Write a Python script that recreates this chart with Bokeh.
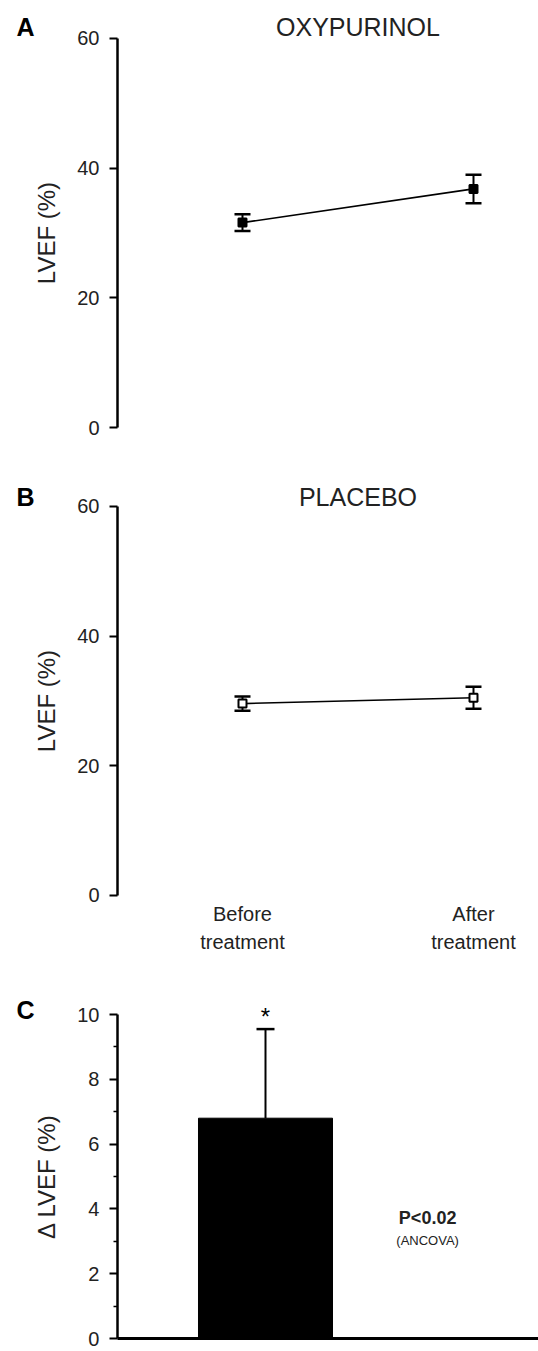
from bokeh.plotting import figure
from bokeh.models import Range1d, FixedTicker, Whisker, TeeHead, ColumnDataSource
from bokeh.layouts import column
from bokeh.embed import file_html
from bokeh.resources import INLINE
from bokeh.core.properties import value

# ---- data ----
timepoints = ["Before\ntreatment", "After\ntreatment"]
tp_x = [0, 1]
oxy_mean = [31.6, 36.8]
oxy_sem = [1.3, 2.2]
pla_mean = [29.6, 30.5]
pla_sem = [1.1, 1.7]
delta_x = [0]
delta_mean = [6.8]
delta_sem = [2.75]
lvef_ticks = [0, 20, 40, 60]
delta_ticks = [0, 2, 4, 6, 8, 10]
delta_minor = [1, 3, 5, 7, 9]

FONT = "Liberation Sans"
TXT = "#222222"


def style_yaxis(p, ticks, bounds, label, loc, minor=None):
    ax = p.yaxis[0]
    ax.fixed_location = loc
    ax.ticker = FixedTicker(ticks=ticks, minor_ticks=minor or [])
    ax.bounds = bounds
    ax.axis_label = label
    ax.axis_label_text_font = FONT
    ax.axis_label_text_font_size = "24px"
    ax.axis_label_text_font_style = "normal"
    ax.axis_label_text_color = TXT
    ax.axis_label_standoff = 14
    ax.major_label_text_font = FONT
    ax.major_label_text_font_size = "20px"
    ax.major_label_text_color = TXT
    ax.major_label_standoff = 10
    ax.axis_line_width = 2.5
    ax.axis_line_color = "black"
    ax.major_tick_line_width = 2
    ax.major_tick_out = 8
    ax.major_tick_in = 0
    ax.minor_tick_out = 4 if minor else 0
    ax.minor_tick_in = 0
    ax.minor_tick_line_width = 1.5


def base_fig(h, xr, yr, xloc=None):
    p = figure(width=538, height=h, x_range=xr, y_range=yr,
               output_backend="svg", toolbar_location=None,
               x_axis_location=xloc, min_border_left=0, min_border_right=0,
               min_border_top=0, min_border_bottom=0)
    p.outline_line_color = None
    p.xgrid.visible = False
    p.ygrid.visible = False
    p.background_fill_color = "white"
    return p


def text(p, x, y, t, size, bold=False, color=TXT, **kw):
    p.text(x=x, y=y, text=t, text_align="center", text_baseline="middle",
           text_font=value(FONT), text_font_size=size,
           text_font_style="bold" if bold else "normal",
           text_color=color, **kw)


def line_panel(h, yr, means, sems, title, letter, filled, ty):
    p = base_fig(h, Range1d(-1.0476, 1.2814), yr)
    style_yaxis(p, lvef_ticks, (0, 60), "LVEF (%)", -0.5411)
    src = ColumnDataSource(dict(
        x=tp_x, y=means,
        upper=[m + s for m, s in zip(means, sems)],
        lower=[m - s for m, s in zip(means, sems)]))
    p.line("x", "y", source=src, line_color="black", line_width=1.6)
    p.add_layout(Whisker(source=src, base="x", upper="upper", lower="lower",
                         line_color="black", line_width=2,
                         upper_head=TeeHead(size=16, line_width=2.5, line_color="black"),
                         lower_head=TeeHead(size=16, line_width=2.5, line_color="black")))
    p.scatter("x", "y", source=src, marker="square", size=8,
              fill_color="black" if filled else "white",
              line_color="black", line_width=2)
    text(p, [0.5], [ty], [title], "25px")
    text(p, [-0.939], [ty], [letter], "25px", bold=True, color="black")
    return p


pA = line_panel(470, Range1d(-6.632, 65.86), oxy_mean, oxy_sem,
                "OXYPURINOL", "A", True, 61.7)
pB = line_panel(490, Range1d(-10.026, 65.55), pla_mean, pla_sem,
                "PLACEBO", "B", False, 61.4)
text(pB, tp_x, [-5.0, -5.0], timepoints, "20px", text_line_height=1.25)

# ---- panel C ----
pC = base_fig(391, Range1d(-1.9776, 2.0373), Range1d(-0.401, 11.667), xloc="below")
style_yaxis(pC, delta_ticks, (0, 10), "\u0394 LVEF (%)", -1.1045, minor=delta_minor)
xa = pC.xaxis[0]
xa.fixed_location = 0
xa.ticker = FixedTicker(ticks=[], minor_ticks=[])
xa.bounds = (-1.1045, 2.0373)
xa.axis_line_width = 3
xa.axis_line_color = "black"
xa.major_tick_line_color = None
xa.minor_tick_line_color = None

srcC = ColumnDataSource(dict(x=delta_x, top=delta_mean,
                             upper=[m + s for m, s in zip(delta_mean, delta_sem)]))
pC.vbar(x="x", top="top", width=1, source=srcC, fill_color="black",
        line_color="black")
pC.add_layout(Whisker(source=srcC, base="x", upper="upper", lower="top",
                      line_color="black", line_width=2,
                      upper_head=TeeHead(size=18, line_width=2.5, line_color="black"),
                      lower_head=None))
text(pC, delta_x, [9.95], ["*"], "24px", color="black")
text(pC, [1.21], [3.73], ["P<0.02"], "18px", bold=True)
text(pC, [1.21], [3.04], ["(ANCOVA)"], "13px")
text(pC, [-1.791], [10.15], ["C"], "25px", bold=True, color="black")

layout = column(pA, pB, pC, spacing=0)
open("out.html", "w").write(file_html(layout, INLINE))
